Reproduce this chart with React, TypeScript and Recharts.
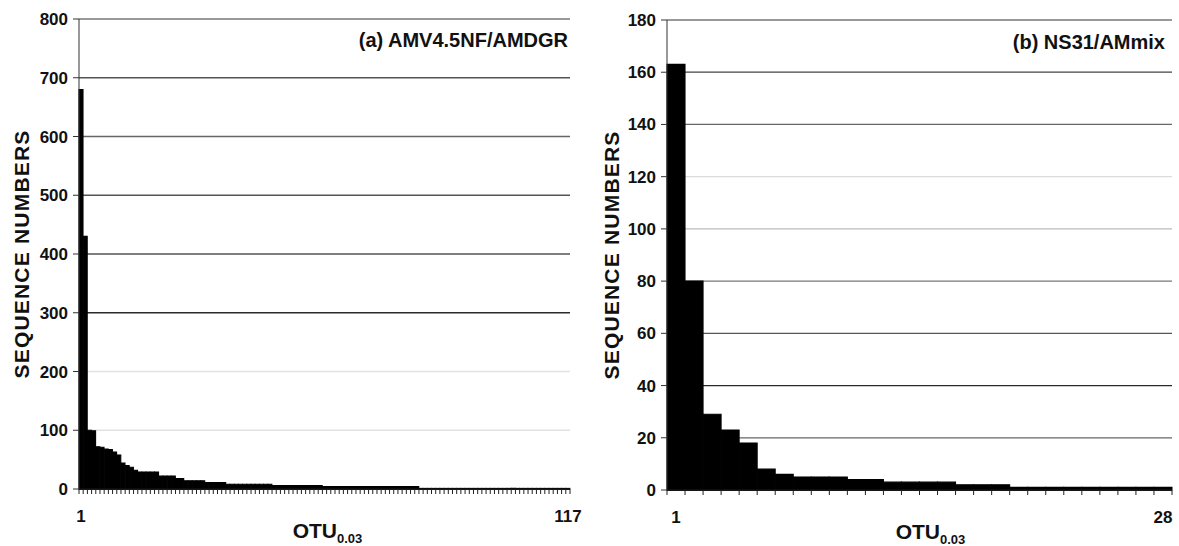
import React from 'react';
import { BarChart, Bar, XAxis, YAxis, CartesianGrid, Label } from 'recharts';

// ---- Data ----
const otuLabelsA: string[] = Array.from({ length: 117 }, (_, i) => String(i + 1));
const seqCountsA: number[] = [
  680, 430, 100, 99, 72, 71, 68, 67, 63, 58,
  44, 40, 37, 32, 29, 29, 29, 29, 29, 22,
  22, 22, 22, 18, 18, 14, 14, 14, 14, 14,
  11, 11, 11, 11, 11, 8, 8, 8, 8, 8,
  8, 8, 8, 8, 8, 8, 6, 6, 6, 6,
  6, 6, 6, 6, 6, 6, 6, 6, 4, 4,
  4, 4, 4, 4, 4, 4, 4, 4, 4, 4,
  4, 4, 4, 4, 4, 4, 4, 4, 4, 4,
  4, 1, 1, 1, 1, 1, 1, 1, 1, 1,
  1, 1, 1, 1, 1, 1, 1, 1, 1, 1,
  1, 1, 1, 1, 1, 1, 1, 1, 1, 1,
  1, 1, 1, 1, 1, 1, 1,
];
const yTicksA: number[] = [0, 100, 200, 300, 400, 500, 600, 700, 800];
const gridColorsA: string[] = ['#333', '#e2e2e2', '#e2e2e2', '#2a2a2a', '#555', '#555', '#666', '#555', '#777'];

const otuLabelsB: string[] = Array.from({ length: 28 }, (_, i) => String(i + 1));
const seqCountsB: number[] = [
  163, 80, 29, 23, 18, 8, 6, 5, 5, 5,
  4, 4, 3, 3, 3, 3, 2, 2, 2, 1,
  1, 1, 1, 1, 1, 1, 1, 1,
];
const yTicksB: number[] = [0, 20, 40, 60, 80, 100, 120, 140, 160, 180];
const gridColorsB: string[] = ['#333', '#666', '#2a2a2a', '#555', '#777', '#bbb', '#dcdcdc', '#666', '#444', '#777'];

const titleA = '(a) AMV4.5NF/AMDGR';
const titleB = '(b) NS31/AMmix';
const yAxisTitle = 'SEQUENCE NUMBERS';

const FONT = '"Liberation Sans", Arial, Helvetica, sans-serif';

type PanelProps = {
  labels: string[];
  values: number[];
  yTicks: number[];
  gridColors: string[];
  width: number;
  height: number;
  margin: { top: number; right: number; left: number; bottom: number };
  yAxisWidth: number;
  xAxisHeight: number;
  xLabelShift: number;
};

function Panel(p: PanelProps) {
  const data = p.labels.map((l, i) => ({ otu: l, seq: p.values[i] }));
  const n = p.labels.length;
  const plotW = p.width - p.margin.left - p.margin.right - p.yAxisWidth;
  const band = plotW / n;
  const yMax = p.yTicks[p.yTicks.length - 1];

  const XTick = (props: any) => {
    const { x, y, index, payload } = props;
    const left = x - band / 2;
    const right = x + band / 2;
    return (
      <g>
        <line x1={left} x2={left} y1={y} y2={y + 5} stroke="#222" strokeWidth={1} />
        {index === n - 1 && <line x1={right} x2={right} y1={y} y2={y + 5} stroke="#222" strokeWidth={1} />}
        {(index === 0 || index === n - 1) && (
          <text x={x} y={y + 33} textAnchor="middle" fontFamily={FONT} fontWeight="bold" fontSize={17} fill="#111">
            {payload.value}
          </text>
        )}
      </g>
    );
  };

  const GridLine = (props: any) => {
    const { x1, x2, y1, y2, index } = props;
    return <line x1={x1} x2={x2} y1={y1} y2={y2} stroke={p.gridColors[index] ?? '#666'} strokeWidth={1.3} />;
  };

  return (
    <BarChart width={p.width} height={p.height} data={data} margin={p.margin} barCategoryGap={0} barGap={0}>
      <CartesianGrid vertical={false} horizontal={GridLine as any} />
      <XAxis
        dataKey="otu"
        interval={0}
        tickLine={false}
        tickSize={0}
        tickMargin={0}
        height={p.xAxisHeight}
        axisLine={{ stroke: '#111', strokeWidth: 1.5 }}
        tick={XTick}
      >
        <Label
          content={(lp: any) => {
            const vb = lp.viewBox;
            const cx = vb.x + vb.width / 2 + p.xLabelShift;
            return (
              <text x={cx} y={vb.y + 49} textAnchor="middle" fontFamily={FONT} fontWeight="bold" fontSize={21} fill="#111">
                OTU
                <tspan dy={5} fontSize={13}>0.03</tspan>
              </text>
            );
          }}
        />
      </XAxis>
      <YAxis
        type="number"
        domain={[0, yMax]}
        ticks={p.yTicks}
        interval={0}
        width={p.yAxisWidth}
        tickSize={6}
        tickMargin={5}
        axisLine={{ stroke: '#333', strokeWidth: 1 }}
        tickLine={{ stroke: '#333', strokeWidth: 1 }}
        tick={{ fontFamily: FONT, fontWeight: 'bold', fontSize: 17, fill: '#111' }}
      >
        <Label
          content={(lp: any) => {
            const vb = lp.viewBox;
            const cx = vb.x + 21;
            const cy = vb.y + vb.height / 2;
            return (
              <text
                x={cx}
                y={cy}
                transform={`rotate(-90 ${cx} ${cy})`}
                textAnchor="middle"
                dominantBaseline="central"
                fontFamily={FONT}
                fontWeight="bold"
                fontSize={21}
                letterSpacing={1.2}
                fill="#111"
              >
                {yAxisTitle}
              </text>
            );
          }}
        />
      </YAxis>
      <Bar dataKey="seq" fill="#000" stroke="#000" strokeWidth={1.1} isAnimationActive={false} />
    </BarChart>
  );
}

export default function App() {
  const titleStyle: React.CSSProperties = {
    position: 'absolute',
    fontFamily: FONT,
    fontWeight: 'bold',
    fontSize: 20,
    lineHeight: '20px',
    color: '#111',
    whiteSpace: 'nowrap',
  };
  return (
    <div style={{ position: 'absolute', left: 0, top: 0, width: 1179, height: 546, background: '#fff', overflow: 'hidden' }}>
      <div style={{ position: 'absolute', left: 0, top: 0 }}>
        <Panel
          labels={otuLabelsA}
          values={seqCountsA}
          yTicks={yTicksA}
          gridColors={gridColorsA}
          width={590}
          height={546}
          margin={{ top: 19, right: 20, left: 0, bottom: 0 }}
          yAxisWidth={79}
          xAxisHeight={57}
          xLabelShift={3}
        />
      </div>
      <div style={{ position: 'absolute', left: 590, top: 0 }}>
        <Panel
          labels={otuLabelsB}
          values={seqCountsB}
          yTicks={yTicksB}
          gridColors={gridColorsB}
          width={589}
          height={546}
          margin={{ top: 20, right: 7, left: 0, bottom: 0 }}
          yAxisWidth={77}
          xAxisHeight={56}
          xLabelShift={11}
        />
      </div>
      <div style={{ ...titleStyle, right: 1179 - 568, top: 30 }}>{titleA}</div>
      <div style={{ ...titleStyle, right: 1179 - 1165, top: 32 }}>{titleB}</div>
    </div>
  );
}
